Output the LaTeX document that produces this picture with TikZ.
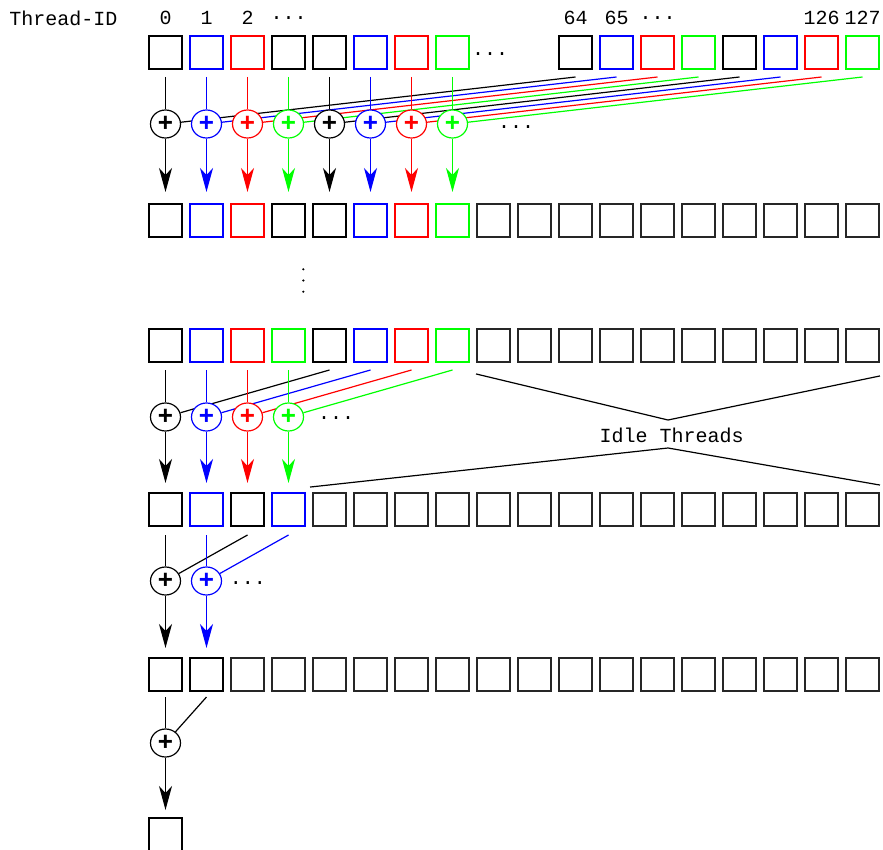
\documentclass[tikz,border=0pt]{standalone}
\usepackage{fontspec}
\setmonofont{Liberation Mono}
\newfontfamily\plusfont{Liberation Sans}
\usetikzlibrary{arrows.meta,shapes.geometric}

\newcommand\tdots{...}
\tikzset{
  cell/.style={draw,minimum size=16.7pt,inner sep=0pt,line width=0.8pt},
  idle/.style={cell,draw=black!85,line width=0.75pt},
  adder/.style={ellipse,draw,fill=white,minimum width=15pt,minimum height=14pt,
                inner sep=0pt,line width=0.6pt,font=\plusfont\bfseries\fontsize{13}{13}\selectfont},
  feed/.style={line width=0.6pt},
  sum/.style={feed,-{Stealth[length=12pt,width=6.5pt,inset=3.5pt]}},
  lbl/.style={font=\ttfamily}
}

\begin{document}
\begin{tikzpicture}[x=0.5pt,y=-0.5pt]
  \useasboundingbox (0,0) rectangle (883,850);

  % thread ids
  \node[lbl] (tid) at (63.5,18) {Thread-ID};
  \foreach \k/\t in {0/0,1/1,2/2,3/\tdots,10/64,11/65,12/\tdots,16/126,17/127}
    \node[lbl] (n\k) at ({165.5+41*\k},18) {\t};

  % rows of values
  \foreach \k/\col in {0/black,1/blue,2/red,3/black,4/black,5/blue,6/red,7/green,
                       10/black,11/blue,12/red,13/green,14/black,15/blue,16/red,17/green}
    \node[cell,draw=\col] (a\k) at ({165.5+41*\k},52.5) {};
  \node[lbl] (adots) at (490,54) {...};
  \foreach \k/\col in {0/black,1/blue,2/red,3/black,4/black,5/blue,6/red,7/green}
    \node[cell,draw=\col] (b\k) at ({165.5+41*\k},220.5) {};
  \foreach \k/\col in {0/black,1/blue,2/red,3/green,4/black,5/blue,6/red,7/green}
    \node[cell,draw=\col] (c\k) at ({165.5+41*\k},345.5) {};
  \foreach \k in {8,...,17} {
    \node[idle] (b\k) at ({165.5+41*\k},220.5) {};
    \node[idle] (c\k) at ({165.5+41*\k},345.5) {};
  }
  \foreach \k/\col in {0/black,1/blue,2/black,3/blue}
    \node[cell,draw=\col] (d\k) at ({165.5+41*\k},509.5) {};
  \foreach \k in {4,...,17}
    \node[idle] (d\k) at ({165.5+41*\k},509.5) {};
  \foreach \k in {0,1}
    \node[cell] (e\k) at ({165.5+41*\k},674.5) {};
  \foreach \k in {2,...,17}
    \node[idle] (e\k) at ({165.5+41*\k},674.5) {};
  \node[cell] (f0) at (165.5,834.5) {};

  % vertical dots
  \foreach \y in {269.3,280.5,291.7}
    \fill (303.3,\y) circle (0.6pt);

  % adders, each placed before its feeds so later ones cover the long lines
  \foreach \k/\m/\col in {0/10/black,1/11/blue,2/12/red,3/13/green,
                          4/14/black,5/15/blue,6/16/red,7/17/green} {
    \node[adder,draw=\col,text=\col] (p\k) at ({165.5+41*\k},124) {+};
    \draw[feed,\col] ([yshift=-3.5pt]a\k.south) -- (p\k);
    \draw[feed,\col] ([yshift=-3.5pt]a\m.south) -- (p\k);
    \draw[sum,\col] (p\k) -- ([yshift=5.5pt]b\k.north);
  }
  \node[lbl] (pdots) at (516,127) {...};
  \foreach \k/\m/\col in {0/4/black,1/5/blue,2/6/red,3/7/green} {
    \node[adder,draw=\col,text=\col] (q\k) at ({165.5+41*\k},417) {+};
    \draw[feed,\col] ([yshift=-3.5pt]c\k.south) -- (q\k);
    \draw[feed,\col] ([yshift=-3.5pt]c\m.south) -- (q\k);
    \draw[sum,\col] (q\k) -- ([yshift=4.5pt]d\k.north);
  }
  \node[lbl] (qdots) at (336,418) {...};
  \foreach \k/\m/\col in {0/2/black,1/3/blue} {
    \node[adder,draw=\col,text=\col] (s\k) at ({165.5+41*\k},581) {+};
    \draw[feed,\col] ([yshift=-4pt]d\k.south) -- (s\k);
    \draw[feed,\col] ([yshift=-4pt]d\m.south) -- (s\k);
    \draw[sum,\col] (s\k) -- ([yshift=4.5pt]e\k.north);
  }
  \node[lbl] (sdots) at (248,583) {...};
  \node[adder] (t0) at (165.5,743) {+};
  \draw[feed] ([yshift=-2.5pt]e0.south) -- (t0);
  \draw[feed] ([yshift=-2.5pt]e1.south) -- (t0);
  \draw[sum] (t0) -- ([yshift=3.5pt]f0.north);

  % idle threads
  \node[lbl] (idle) at (671.7,435) {Idle Threads};
  \coordinate (vtop) at (668,420);
  \coordinate (vbot) at (668,448);
  \draw[feed] ([yshift=-5.5pt]c8.south west) -- (vtop) -- ([yshift=-6.5pt]c17.south east);
  \draw[feed] ([yshift=2.5pt,xshift=-1pt]d4.north west) -- (vbot) -- ([yshift=3.5pt]d17.north east);
\end{tikzpicture}
\end{document}
